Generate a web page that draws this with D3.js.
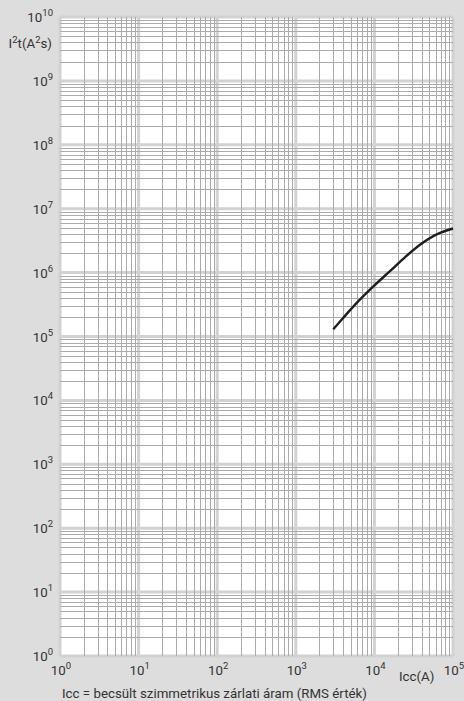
<!DOCTYPE html>
<html><head><meta charset="utf-8">
<script src="https://cdn.jsdelivr.net/npm/d3@7"></script>
<style>
html,body{margin:0;padding:0;background:#dddddd;}
svg{display:block;font-family:Roboto,"Noto Sans",sans-serif;}
</style></head>
<body>
<svg id="c" width="464" height="701"></svg>
<script>
// Data
const currentA = [3000, 4000, 6300, 10000, 16000, 25000, 40000, 63000, 100000];
const i2t = [1.3e5, 1.95e5, 3.6e5, 6.3e5, 1.07e6, 1.78e6, 2.85e6, 4.0e6, 4.9e6];
const xTickExps = [0, 1, 2, 3, 4, 5];
const yTickExps = [0, 1, 2, 3, 4, 5, 6, 7, 8, 9, 10];
const yTitle = ["I", "2", "t(A", "2", "s)"];
const xTitle = "Icc(A)";
const footnote = "Icc = becsült szimmetrikus zárlati áram (RMS érték)";

const svg = d3.select("#c");
const L = 60, R = 453, T = 17, B = 656;
const x = d3.scaleLog().domain([1, 1e5]).range([L, R]);
const y = d3.scaleLog().domain([1, 1e10]).range([B, T]);

svg.append("rect").attr("x", L).attr("y", T).attr("width", R - L).attr("height", B - T).attr("fill", "#ffffff");

// minor grid values
const minorX = [], minorY = [];
for (let e = 0; e < 5; e++) for (let m = 2; m <= 9; m++) minorX.push(m * Math.pow(10, e));
for (let e = 0; e < 10; e++) for (let m = 2; m <= 9; m++) minorY.push(m * Math.pow(10, e));

const g = svg.append("g");
// major (light, wide)
g.selectAll(".mx").data(xTickExps.map(e => Math.pow(10, e))).join("line")
  .attr("x1", d => x(d)).attr("x2", d => x(d)).attr("y1", T).attr("y2", B)
  .attr("stroke", "#d2d2d2").attr("stroke-width", 3);
g.selectAll(".my").data(yTickExps.map(e => Math.pow(10, e))).join("line")
  .attr("y1", d => y(d)).attr("y2", d => y(d)).attr("x1", L).attr("x2", R)
  .attr("stroke", "#d2d2d2").attr("stroke-width", 3);
// minor
g.selectAll(".nx").data(minorX).join("line")
  .attr("x1", d => Math.round(x(d)) + 0.5).attr("x2", d => Math.round(x(d)) + 0.5).attr("y1", T).attr("y2", B)
  .attr("stroke", "#ababab").attr("stroke-width", 1);
g.selectAll(".ny").data(minorY).join("line")
  .attr("y1", d => Math.round(y(d)) + 0.5).attr("y2", d => Math.round(y(d)) + 0.5).attr("x1", L).attr("x2", R)
  .attr("stroke", "#ababab").attr("stroke-width", 1);

// curve
const pts = currentA.map((c, i) => [c, i2t[i]]);
svg.append("path").datum(pts)
  .attr("d", d3.line().x(d => x(d[0])).y(d => y(d[1])).curve(d3.curveCatmullRom.alpha(0.5)))
  .attr("fill", "none").attr("stroke", "#1e1e1e").attr("stroke-width", 2.4)
  .attr("stroke-linecap", "butt");

const txtCol = "#333333";
// y tick labels
yTickExps.forEach(e => {
  const t = svg.append("text").attr("x", 53).attr("y", y(Math.pow(10, e)) + 5)
    .attr("text-anchor", "end").attr("fill", txtCol).attr("font-size", 13.3);
  t.append("tspan").text("10");
  t.append("tspan").attr("dy", -6).attr("font-size", 9.5).text(String(e));
});
// x tick labels
xTickExps.forEach(e => {
  const t = svg.append("text").attr("x", x(Math.pow(10, e)) + 1).attr("y", 675)
    .attr("text-anchor", "middle").attr("fill", txtCol).attr("font-size", 13.3);
  t.append("tspan").text("10");
  t.append("tspan").attr("dy", -6).attr("font-size", 9.5).text(String(e));
});
// y title
const yt = svg.append("text").attr("x", 52).attr("y", 48).attr("text-anchor", "end")
  .attr("fill", txtCol).attr("font-size", 13.3);
yt.append("tspan").text(yTitle[0]);
yt.append("tspan").attr("dy", -5).attr("font-size", 9.5).text(yTitle[1]);
yt.append("tspan").attr("dy", 5).text(yTitle[2]);
yt.append("tspan").attr("dy", -5).attr("font-size", 9.5).text(yTitle[3]);
yt.append("tspan").attr("dy", 5).text(yTitle[4]);
// x title
svg.append("text").attr("x", 399).attr("y", 681).attr("fill", txtCol).attr("font-size", 13.3).text(xTitle);
// footnote
svg.append("text").attr("x", 62).attr("y", 698).attr("fill", txtCol).attr("font-size", 13.3).text(footnote);
</script>
</body></html>
